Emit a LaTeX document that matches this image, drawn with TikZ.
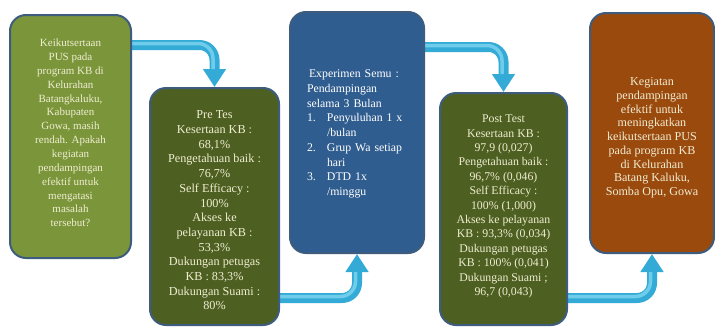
\documentclass[tikz,border=0pt]{standalone}
\usepackage{fontspec}
\setmainfont{Liberation Serif}
\usepackage{tikz}
\usetikzlibrary{arrows.meta,positioning,calc,backgrounds}

\definecolor{olivelight}{HTML}{7B963A}
\definecolor{olivedark}{HTML}{4D6021}
\definecolor{expblue}{HTML}{2F5D8F}
\definecolor{rust}{HTML}{9B4A0D}
\definecolor{rim}{HTML}{3E5C7E}
\definecolor{flowblue}{HTML}{33ABD6}
\definecolor{flowlight}{HTML}{6FCDEB}
\definecolor{cream}{HTML}{F0EDD2}

\begin{document}
\begin{tikzpicture}[
    x=1pt, y=-1pt,
    box/.style={draw=rim, line width=2pt, rounded corners=16pt},
    teks/.style={align=center, inner sep=0pt, text=cream},
    flow/.style={draw=flowblue, line width=10pt, rounded corners=15pt,
        -{Triangle[width=22pt,length=18pt]}},
    kilap/.style={draw=flowlight, line width=3.5pt, rounded corners=15pt, shorten >=18pt}
]
\useasboundingbox (0,0) rectangle (715,327);

% kotak
\node[box, fill=olivelight, minimum width=121pt, minimum height=243pt] (masalah) at (70.5,136.5) {};
\node[box, fill=olivedark, minimum width=129pt, minimum height=237pt] (pretes) at (214.5,206.5) {};
\node[box, fill=expblue, minimum width=134pt, minimum height=241pt] (eksperimen) at (357,132.5) {};
\node[box, fill=olivedark, minimum width=127pt, minimum height=232pt] (posttest) at (503.5,209) {};
\node[box, fill=rust, minimum width=124pt, minimum height=240pt] (hasil) at (652,133) {};

% isi teks
\node[teks, font=\fontsize{11pt}{13.85pt}\selectfont] (masalahteks) at ([yshift=3.5pt]masalah.center)
    {Keikutsertaan\\PUS pada\\program KB di\\Kelurahan\\Batangkaluku,\\Kabupaten\\Gowa, masih\\rendah. Apakah\\kegiatan\\pendampingan\\efektif untuk\\mengatasi\\masalah\\tersebut?};
\node[teks, font=\fontsize{12.2pt}{14.7pt}\selectfont] (pretesteks) at ([yshift=-4pt]pretes.center)
    {Pre Tes\\Kesertaan KB :\\68,1\%\\Pengetahuan baik :\\76,7\%\\Self Efficacy :\\100\%\\Akses ke\\pelayanan KB :\\53,3\%\\Dukungan petugas\\KB : 83,3\%\\Dukungan Suami :\\80\%};
\node[teks, text=white, align=left, text width=100pt, font=\fontsize{11.8pt}{14.75pt}\selectfont] (eksperimenteks) at ([yshift=-1.5pt]eksperimen.center)
    {\hspace*{2pt}Experimen Semu :\\Pendampingan\\selama 3 Bulan\\
     \makebox[20pt][l]{1.}Penyuluhan 1 x\\\hspace*{20pt}/bulan\\
     \makebox[20pt][l]{2.}Grup Wa setiap\\\hspace*{20pt}hari\\
     \makebox[20pt][l]{3.}DTD 1x\\\hspace*{20pt}/minggu};
\node[teks, font=\fontsize{11.8pt}{14.4pt}\selectfont] (posttestteks) at ([yshift=2.5pt]posttest.center)
    {Post Test\\Kesertaan KB :\\97,9 (0,027)\\Pengetahuan baik :\\96,7\% (0,046)\\Self Efficacy :\\100\% (1,000)\\Akses ke pelayanan\\KB : 93,3\% (0,034)\\Dukungan petugas\\KB : 100\% (0,041)\\Dukungan Suami ;\\96,7 (0,043)};
\node[teks, font=\fontsize{12.1pt}{13.75pt}\selectfont] (hasilteks) at ([yshift=-5pt]hasil.center)
    {Kegiatan\\pendampingan\\efektif untuk\\meningkatkan\\keikutsertaan PUS\\pada program KB\\di Kelurahan\\Batang Kaluku,\\Somba Opu, Gowa};

% panah alur
\begin{scope}[on background layer]
\draw[flow] ([xshift=-6pt,yshift=-31pt]masalah.north east) -| (pretes.north);
\draw[flow] ([xshift=-6pt,yshift=28pt]pretes.south east) -| (eksperimen.south);
\draw[flow] ([xshift=-6pt,yshift=-36pt]eksperimen.north east) -| (posttest.north);
\draw[flow] ([xshift=-6pt,yshift=28pt]posttest.south east) -| (hasil.south);
\draw[kilap] ([xshift=-6pt,yshift=-29.5pt]masalah.north east) -| ([xshift=-1.5pt]pretes.north);
\draw[kilap] ([xshift=-6pt,yshift=29.5pt]pretes.south east) -| ([xshift=-1.5pt]eksperimen.south);
\draw[kilap] ([xshift=-6pt,yshift=-34.5pt]eksperimen.north east) -| ([xshift=-1.5pt]posttest.north);
\draw[kilap] ([xshift=-6pt,yshift=29.5pt]posttest.south east) -| ([xshift=-1.5pt]hasil.south);
\end{scope}
\end{tikzpicture}
\end{document}
